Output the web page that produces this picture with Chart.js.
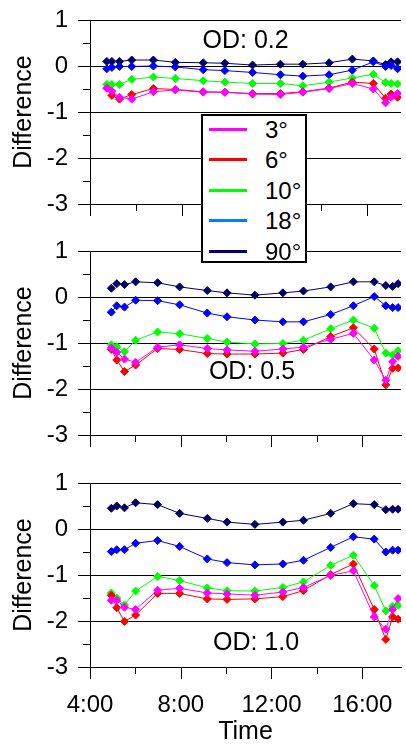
<!DOCTYPE html>
<html>
<head>
<meta charset="utf-8">
<script src="https://cdn.jsdelivr.net/npm/chart.js@4"></script>
<style>
  html, body { margin: 0; padding: 0; background: #fff; overflow: hidden; }
  body { width: 406px; height: 747px; position: relative; font-family: "Liberation Sans", Arial, sans-serif; }
  canvas { position: absolute; left: 0; }
  #legend { position: absolute; left: 201px; top: 114px; width: 102px; height: 145px;
            border: 2px solid #000; background: #fff; z-index: 5; }
  .row { position: absolute; left: 0; height: 30px; width: 100%; }
  .row span.sw { position: absolute; left: 6px; top: 13px; width: 38px; height: 3px; }
  .row span.tx { position: absolute; left: 62px; top: 0; line-height: 30px; font-size: 24px; color: #000; }
</style>
</head>
<body>
<canvas id="p1" width="406" height="224" style="top:0px"></canvas>
<canvas id="p2" width="406" height="224" style="top:231px"></canvas>
<canvas id="p3" width="406" height="284" style="top:463px"></canvas>
<div id="legend"></div>
<script>
// angles and colours
const seriesLabels = ['3°', '6°', '10°', '18°', '90°'];
const lineColors = ['#ff00ff', '#ff0000', '#00ff00', '#0000ff', '#000066'];
const legendColors = ['#ff00ff', '#ff0000', '#00ff00', '#0080ff', '#000080'];

// sample times (hours) - top panel was sampled on another day
const timesTop = [4.73, 4.95, 5.28, 5.81, 6.75, 7.70, 8.91, 9.85, 11.05, 12.26, 13.23, 14.37, 15.38, 16.29, 16.82, 17.06, 17.34];
const times = [4.94, 5.18, 5.52, 6.01, 6.98, 7.95, 9.17, 10.04, 11.27, 12.50, 13.41, 14.61, 15.61, 16.53, 17.04, 17.34, 17.58];

// OD 0.2
const od02_3 = [-0.48, -0.55, -0.68, -0.72, -0.56, -0.52, -0.57, -0.57, -0.61, -0.62, -0.57, -0.49, -0.38, -0.50, -0.80, -0.68, -0.60];
const od02_6 = [-0.48, -0.64, -0.72, -0.62, -0.49, -0.51, -0.56, -0.57, -0.60, -0.60, -0.56, -0.48, -0.35, -0.38, -0.70, -0.61, -0.68];
const od02_10 = [-0.40, -0.40, -0.40, -0.29, -0.24, -0.27, -0.32, -0.35, -0.38, -0.38, -0.43, -0.35, -0.26, -0.18, -0.36, -0.38, -0.39];
const od02_18 = [-0.06, -0.03, -0.01, -0.01, 0.00, -0.02, -0.08, -0.10, -0.14, -0.19, -0.22, -0.19, -0.09, 0.09, -0.01, 0.01, -0.06];
const od02_90 = [0.10, 0.10, 0.10, 0.13, 0.13, 0.08, 0.07, 0.06, 0.02, 0.04, 0.04, 0.07, 0.15, 0.11, 0.03, 0.09, 0.09];

// OD 0.5
const od05_3 = [-1.11, -1.20, -1.35, -1.42, -1.09, -1.04, -1.12, -1.15, -1.18, -1.13, -1.09, -0.92, -0.79, -1.37, -1.81, -1.41, -1.29];
const od05_6 = [-1.14, -1.37, -1.62, -1.48, -1.12, -1.14, -1.23, -1.24, -1.24, -1.22, -1.14, -0.86, -0.67, -1.13, -1.91, -1.55, -1.54];
const od05_10 = [-1.04, -1.08, -1.19, -0.94, -0.76, -0.80, -0.90, -0.98, -1.02, -1.01, -0.94, -0.69, -0.50, -0.68, -1.22, -1.26, -1.17];
const od05_18 = [-0.33, -0.19, -0.22, -0.07, -0.08, -0.17, -0.35, -0.43, -0.50, -0.54, -0.54, -0.38, -0.19, 0.01, -0.19, -0.23, -0.23];
const od05_90 = [0.19, 0.29, 0.27, 0.33, 0.31, 0.22, 0.14, 0.09, 0.04, 0.09, 0.13, 0.22, 0.33, 0.33, 0.25, 0.23, 0.29];

// OD 1.0
const od10_3 = [-1.55, -1.55, -1.70, -1.75, -1.33, -1.29, -1.39, -1.41, -1.44, -1.37, -1.27, -1.01, -0.91, -1.91, -2.18, -1.75, -1.51];
const od10_6 = [-1.44, -1.71, -2.01, -1.87, -1.40, -1.40, -1.52, -1.53, -1.52, -1.47, -1.34, -0.99, -0.76, -1.75, -2.40, -1.91, -1.96];
const od10_10 = [-1.39, -1.50, -1.65, -1.35, -1.03, -1.12, -1.28, -1.34, -1.35, -1.27, -1.15, -0.79, -0.57, -1.23, -1.78, -1.68, -1.66];
const od10_18 = [-0.49, -0.45, -0.45, -0.31, -0.25, -0.38, -0.65, -0.73, -0.78, -0.76, -0.68, -0.40, -0.17, -0.22, -0.50, -0.46, -0.46];
const od10_90 = [0.45, 0.50, 0.46, 0.57, 0.53, 0.34, 0.23, 0.15, 0.10, 0.15, 0.19, 0.34, 0.55, 0.53, 0.42, 0.43, 0.43];

// axis ticks
const yMajor = [1, 0, -1, -2, -3];
const yMinor = [0.5, -0.5, -1.5, -2.5];
const xMajor = [4, 8, 12, 16];
const xMinor = [6, 10, 14];

const FONT = '"Liberation Sans", Arial, sans-serif';

// tick marks drawn outside the plot, long for major, short for minor
const tickMarks = {
  id: 'tickMarks',
  afterDraw(chart) {
    const { ctx, chartArea: a, scales: { x, y } } = chart;
    ctx.save();
    ctx.strokeStyle = '#000';
    ctx.lineWidth = 1;
    ctx.beginPath();
    yMajor.forEach(v => { const p = Math.round(y.getPixelForValue(v)) + 0.5; ctx.moveTo(a.left - 12, p); ctx.lineTo(a.left, p); });
    yMinor.forEach(v => { const p = Math.round(y.getPixelForValue(v)) + 0.5; ctx.moveTo(a.left - 7, p); ctx.lineTo(a.left, p); });
    xMajor.forEach(v => { const p = Math.round(x.getPixelForValue(v)) + 0.5; ctx.moveTo(p, a.bottom); ctx.lineTo(p, a.bottom + 12); });
    xMinor.forEach(v => { const p = Math.round(x.getPixelForValue(v)) + 0.5; ctx.moveTo(p, a.bottom); ctx.lineTo(p, a.bottom + 7); });
    ctx.stroke();
    ctx.restore();
  }
};

// "OD: x" caption inside each panel
const odCaption = {
  id: 'odCaption',
  afterDatasetsDraw(chart, args, opts) {
    const { ctx, scales: { x, y } } = chart;
    ctx.save();
    ctx.font = '25px ' + FONT;
    ctx.fillStyle = '#000';
    ctx.textAlign = 'center';
    ctx.textBaseline = 'middle';
    ctx.fillText(opts.text, x.getPixelForValue(opts.x), y.getPixelForValue(opts.y));
    ctx.restore();
  }
};

function makePanel(id, t, series, xMax, caption, bottom) {
  const datasets = series.map((vals, i) => ({
    label: seriesLabels[i],
    data: vals.map((v, k) => ({ x: t[k], y: v })),
    borderColor: lineColors[i],
    backgroundColor: lineColors[i],
    borderWidth: 1,
    pointStyle: 'rectRot',
    pointRadius: 4,
    pointBorderWidth: 1,
    tension: 0
  }));
  return new Chart(document.getElementById(id), {
    type: 'line',
    data: { datasets },
    plugins: [tickMarks, odCaption],
    options: {
      responsive: false,
      animation: false,
      layout: { padding: { top: 20, right: 0, left: 0, bottom: 0 } },
      plugins: { legend: { display: false }, tooltip: { enabled: false }, odCaption: caption },
      scales: {
        x: {
          type: 'linear', min: 4, max: xMax,
          afterBuildTicks: s => { s.ticks = xMajor.map(v => ({ value: v })); },
          afterFit: s => { s.height = bottom ? 80 : 20; },
          // transparent tick length stands in for label padding (padding would shrink the plot)
          grid: { drawOnChartArea: false, drawTicks: true, tickLength: 24, tickColor: 'rgba(0,0,0,0)' },
          border: { display: true, color: '#000', width: 1 },
          ticks: { display: bottom, padding: 0, color: '#000', font: { family: FONT, size: 24 },
                   callback: v => v + ':00', maxRotation: 0 },
          title: { display: bottom, text: 'Time', color: '#000', font: { family: FONT, size: 25 }, padding: 0 }
        },
        y: {
          min: -3, max: 1,
          afterBuildTicks: s => { s.ticks = yMajor.map(v => ({ value: v })); },
          afterFit: s => { s.width = 90; },
          grid: { color: '#000', lineWidth: 1, drawTicks: true, tickLength: 22, tickColor: 'rgba(0,0,0,0)' },
          border: { display: true, color: '#000', width: 1 },
          ticks: { padding: 0, color: '#000', font: { family: FONT, size: 24 } },
          title: { display: true, text: 'Difference', color: '#000', font: { family: FONT, size: 25 },
                   padding: { top: 9, bottom: 0 } }
        }
      }
    }
  });
}

makePanel('p1', timesTop, [od02_3, od02_6, od02_10, od02_18, od02_90], 17.49,
  { text: 'OD: 0.2', x: 10.75, y: 0.55 }, false);
makePanel('p2', times, [od05_3, od05_6, od05_10, od05_18, od05_90], 17.71,
  { text: 'OD: 0.5', x: 11.14, y: -1.63 }, false);
makePanel('p3', times, [od10_3, od10_6, od10_10, od10_18, od10_90], 17.71,
  { text: 'OD: 1.0', x: 11.32, y: -2.48 }, true);

// legend box
const legend = document.getElementById('legend');
seriesLabels.forEach((lab, i) => {
  const row = document.createElement('div');
  row.className = 'row';
  row.style.top = (-1 + i * 30.4) + 'px';
  row.innerHTML = '<span class="sw" style="background:' + legendColors[i] + '"></span><span class="tx">' + lab + '</span>';
  legend.appendChild(row);
});
</script>
</body>
</html>
